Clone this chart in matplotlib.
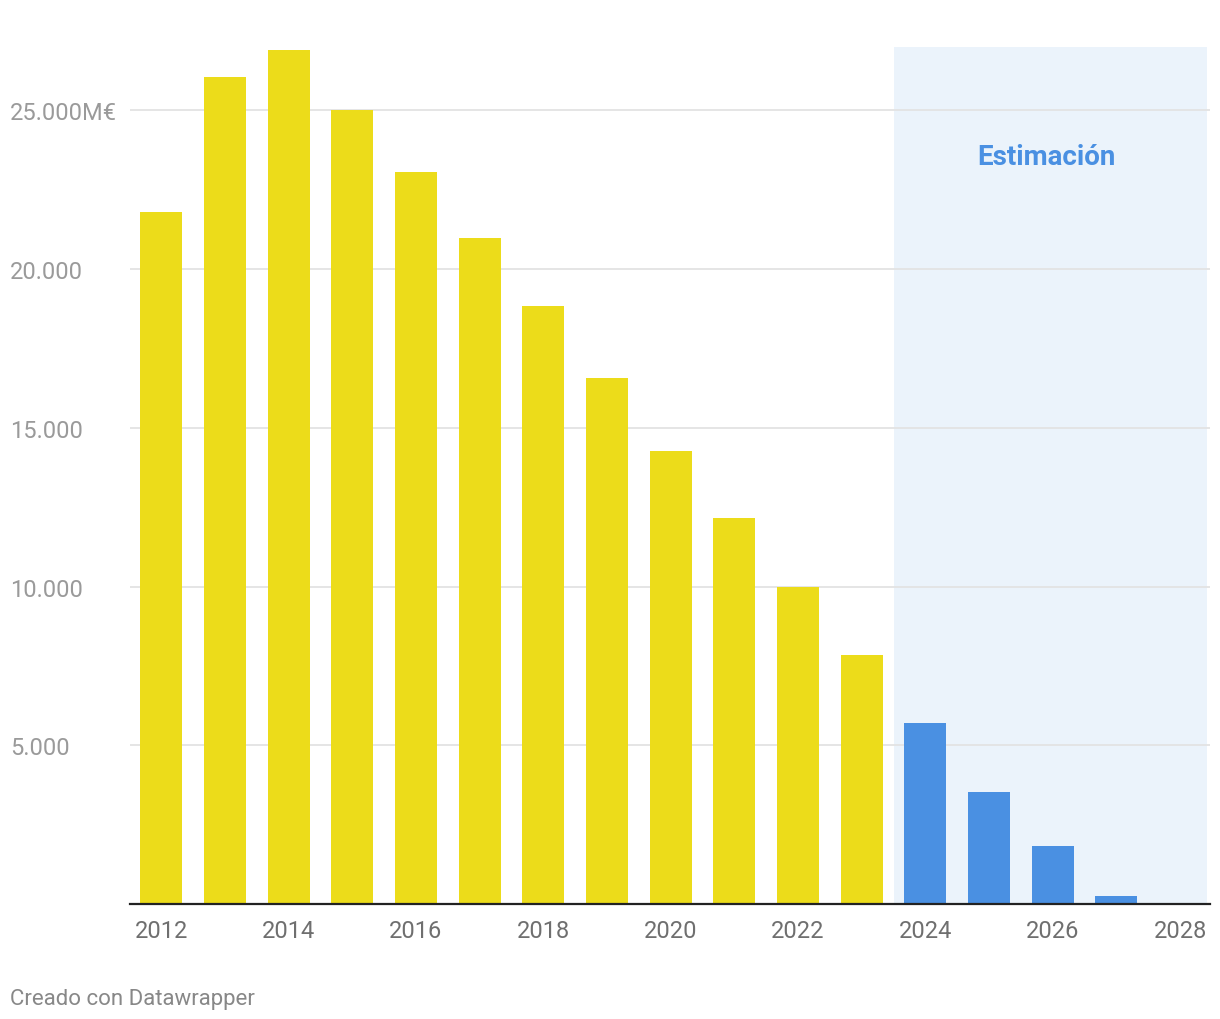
import matplotlib.pyplot as plt

plt.rcParams['font.family'] = ['Roboto', 'DejaVu Sans']

# Data (millions of euros)
years = [2012, 2013, 2014, 2015, 2016, 2017, 2018, 2019, 2020, 2021, 2022, 2023,
         2024, 2025, 2026, 2027, 2028]
values = [21800, 26050, 26900, 25030, 23050, 20970, 18830, 16560, 14260, 12150,
          9980, 7840, 5700, 3530, 1830, 250, 0]
estimated_from = 2024

yticks = [5000, 10000, 15000, 20000, 25000]
ytick_labels = ['5.000', '10.000', '15.000', '20.000', '25.000M€']
xticks = [2012, 2014, 2016, 2018, 2020, 2022, 2024, 2026, 2028]

yellow = '#ecdc1a'
blue = '#4a90e2'

fig = plt.figure(figsize=(12.2, 10.2), dpi=100)
ax = fig.add_axes([130 / 1220, 115 / 1020, 1080 / 1220, 857 / 1020])

# Shaded estimate region
ax.axvspan(estimated_from - 0.5, 2028.43, color='#ebf3fb', zorder=0, lw=0)

colors = [blue if y >= estimated_from else yellow for y in years]
ax.bar(years, values, width=0.66, color=colors, zorder=2)

ax.set_xlim(2011.51, 2028.47)
ax.set_ylim(0, 27000)

for t in yticks:
    ax.axhline(t, color='#e3e3e3', lw=1.3, zorder=1)

ax.set_yticks(yticks)
ax.set_yticklabels(ytick_labels, ha='left', fontsize=17, color='#9a9a9a')
ax.tick_params(axis='y', length=0, pad=86.4)

ax.set_xticks(xticks)
ax.set_xticklabels([str(x) for x in xticks], fontsize=17, color='#6f6f6f')
ax.tick_params(axis='x', length=0, pad=11)

for s in ['top', 'right', 'left']:
    ax.spines[s].set_visible(False)
ax.spines['bottom'].set_color('#222222')
ax.spines['bottom'].set_linewidth(1.6)
ax.spines['bottom'].set_zorder(3)

ax.text(2025.9, 23550, 'Estimación', ha='center', va='center',
        fontsize=20, fontweight='bold', color=blue)

fig.text(10 / 1220, 1 - 1000 / 1020, 'Creado con Datawrapper', ha='left', va='center',
         fontsize=16, color='#888888')

fig.savefig('out.png', dpi=100)
